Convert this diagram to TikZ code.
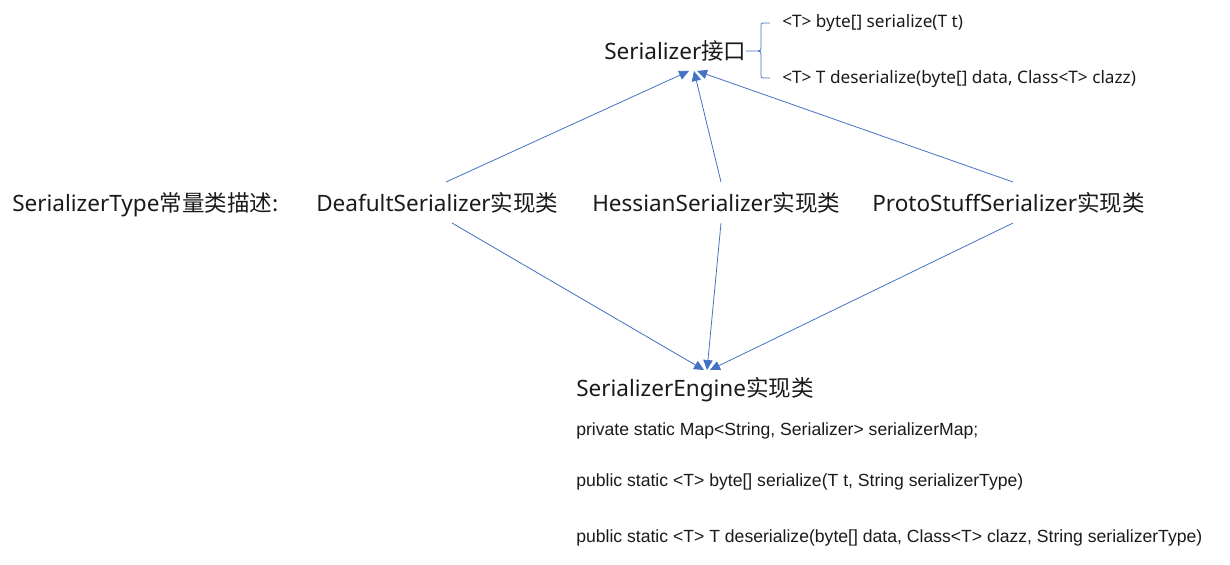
\documentclass[tikz,border=0pt]{standalone}
\usepackage{fontspec}
\setmainfont{Noto Sans}
\newfontfamily\cjk{Noto Sans CJK SC}
\newfontfamily\narrowfont{Liberation Sans}
\newfontfamily\smallfont{Noto Sans}
\usetikzlibrary{arrows.meta}
\definecolor{lineblue}{HTML}{4472C4}
\definecolor{txt}{HTML}{1A1A1A}
\tikzset{
  big/.style={anchor=base west, inner sep=0pt, text=txt, font=\fontsize{16.9pt}{19pt}\selectfont},
  sml/.style={anchor=base west, inner sep=0pt, text=txt, font=\smallfont\fontsize{12.9pt}{14pt}\selectfont},
  nar/.style={anchor=base west, inner sep=0pt, text=txt, font=\narrowfont\fontsize{13.2pt}{15pt}\selectfont},
  conn/.style={draw=lineblue, line width=0.6pt, -{Triangle[length=7.5pt,width=7pt]}},
}
\begin{document}
\begin{tikzpicture}[x=0.75pt,y=-0.75pt]
\useasboundingbox (0,0) rectangle (1230,564);
% nodes
\node[big] (iface) at (604,59) {Serializer\cjk{接口}};
\node[sml] (m1) at (782,27) {<T> byte[] serialize(T t)};
\node[sml] (m2) at (782,83) {<T> T deserialize(byte[] data, Class<T> clazz)};
\node[big] (stype) at (12,211) {SerializerType\cjk{常量类描述:}};
\node[big] (deaf) at (316,211) {DeafultSerializer\cjk{实现类}};
\node[big] (hess) at (592,211) {HessianSerializer\cjk{实现类}};
\node[big] (proto) at (872,211) {ProtoStuffSerializer\cjk{实现类}};
\node[big] (eng) at (576,396) {SerializerEngine\cjk{实现类}};
\node[nar] (e1) at (576,435) {private static Map<String, Serializer> serializerMap;};
\node[nar] (e2) at (576,486) {public static <T> byte[] serialize(T t, String serializerType)};
\node[nar] (e3) at (576,542) {public static <T> T deserialize(byte[] data, Class<T> clazz, String serializerType)};
% anchor coordinates
\coordinate (dTop) at (446,182);
\coordinate (hTop) at (721,182);
\coordinate (pTop) at (1013,182);
\coordinate (dBot) at (452,223);
\coordinate (hBot) at (721,223);
\coordinate (pBot) at (1013,223);
\coordinate (iL) at (689,71);
\coordinate (iM) at (694,71);
\coordinate (iR) at (697,71);
\coordinate (eL) at (704,370);
\coordinate (eM) at (707,370);
\coordinate (eR) at (710,370);
\draw[conn] (dTop) -- (iL);
\draw[conn] (hTop) -- (iM);
\draw[conn] (pTop) -- (iR);
\draw[conn] (dBot) -- (eL);
\draw[conn] (hBot) -- (eM);
\draw[conn] (pBot) -- (eR);
% brace
\coordinate (bTip) at (746,51);
\draw[lineblue, line width=0.6pt] (bTip) -- (758,51) .. controls (761,51) and (761,50) .. (761,47) -- (761,26) .. controls (761,23) .. (764,23) -- (770,23);
\draw[lineblue, line width=0.6pt] (758,51) .. controls (761,51) and (761,52) .. (761,55) -- (761,75) .. controls (761,78) .. (764,78) -- (770,78);
\end{tikzpicture}
\end{document}
